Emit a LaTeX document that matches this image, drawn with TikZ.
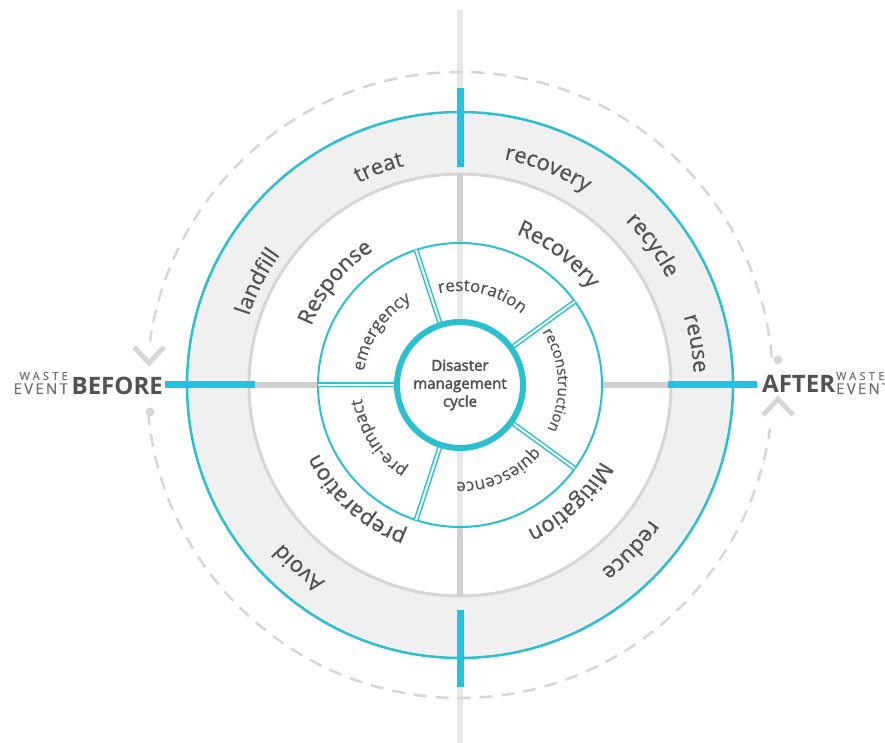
\documentclass[tikz,border=0pt]{standalone}
\usepackage{fontspec}
\setmainfont{Open Sans}
\usetikzlibrary{decorations.text}
\definecolor{cy}{RGB}{43,192,208}
\definecolor{cyb}{RGB}{32,196,226}
\definecolor{band}{RGB}{240,240,240}
\definecolor{bandline}{RGB}{214,214,214}
\definecolor{axisg}{RGB}{208,208,208}
\definecolor{axisl}{RGB}{232,232,232}
\definecolor{dashg}{RGB}{214,214,214}
\definecolor{txt}{RGB}{82,82,82}
\definecolor{txtl}{RGB}{110,110,110}
\newcommand{\bigfont}{\fontsize{22}{22}\selectfont\addfontfeature{LetterSpace=10,FakeBold=0.8}\color{txt}}
\newcommand{\outfont}{\fontsize{22}{22}\selectfont\addfontfeature{LetterSpace=10,FakeBold=0.6}\color{txt}}
\newcommand{\innfont}{\fontsize{17}{17}\selectfont\addfontfeature{LetterSpace=10,FakeBold=0.4}\color{txt}}
\newcommand{\recfont}{\fontsize{15}{15}\selectfont\addfontfeature{LetterSpace=4,FakeBold=0.4}\color{txt}}
\newcommand{\arclabel}[4]{\path[decorate,decoration={text along path,text align=center,text={|#3|#4}}] ({#1+60}:#2) arc[start angle={#1+60}, end angle={#1-60}, radius=#2];}
\tikzset{
  spoke/.style={cy, double=white, double distance=2pt, line width=1.5pt},
  axisin/.style={axisg, line width=6pt},
  axiscy/.style={cyb, line width=7pt},
  dashring/.style={dashg, line width=2.5pt, dash pattern=on 13pt off 9pt},
  chev/.style={dashg, line width=5pt},
  sidelab/.style={inner sep=0pt}
}
\begin{document}
\begin{tikzpicture}[x=1pt,y=1pt]
\useasboundingbox (-460,-358) rectangle (425,385);
\clip (-460,-358) rectangle (425,385);
% outer light vertical axis
\draw[axisl, line width=6pt] (0,375) -- (0,-362);
% dashed cycle ring
\draw[dashring] (5:313) arc[start angle=5,end angle=172,radius=313];
\draw[dashring] (185:313) arc[start angle=185,end angle=352,radius=313];
\draw[chev] (-326,38) -- (-311,22) -- (-296,38);
\fill[dashg] (-310,-27) circle (4.5);
\draw[chev] (303,-30) -- (318,-14) -- (333,-30);
\fill[dashg] (318,25) circle (4.5);
% grey band
\fill[band, even odd rule] (0,0) circle (273) (0,0) circle (211);
\draw[bandline, line width=3pt] (0,0) circle (211);
\draw[cy, line width=2.5pt] (0,0) circle (273);
% inner grey axis pieces
\draw[axisin] (0,211) -- (0,142);
\draw[axisin] (0,-211) -- (0,-142);
\draw[axisin] (-211,0) -- (-142,0);
\draw[axisin] (211,0) -- (142,0);
% cyan axis marks
\draw[axiscy] (0,218) -- (0,297);
\draw[axiscy] (0,-225) -- (0,-302);
\draw[axiscy] (-295,0) -- (-205,0);
\draw[axiscy] (208,0) -- (297,0);
% middle ring
\draw[cy, line width=2pt] (0,0) circle (142);
\foreach \a in {180,108,36,-36,-108} \draw[spoke] (\a:60) -- (\a:142);
% core
\node[circle, draw=cy, line width=6pt, fill=white, minimum size=126pt, inner sep=0pt, align=center, text=txt, font=\fontsize{15}{18}\selectfont\addfontfeature{FakeBold=2.5}] (core) at (0,0) {Disaster\\management\\cycle};
% inner labels
\arclabel{146}{97}{\innfont}{emergency}
\arclabel{76}{94}{\innfont}{restoration}
\arclabel{3}{98}{\recfont}{reconstruction}
\arclabel{-66}{97}{\innfont}{quiescence}
\arclabel{213}{99}{\innfont}{pre-impact}
% middle labels
\arclabel{140.6}{160}{\bigfont}{Response}
\arclabel{53}{161}{\bigfont}{Recovery}
\arclabel{-46.7}{160}{\bigfont}{Mitigation}
\arclabel{228}{157}{\bigfont}{preparation}
% outer band labels
\arclabel{110.5}{226}{\outfont}{treat}
\arclabel{153}{222}{\outfont}{landfill}
\arclabel{67.9}{230}{\outfont}{recovery}
\arclabel{36}{233}{\outfont}{recycle}
\arclabel{10}{234}{\outfont}{reuse}
\arclabel{-44}{233}{\outfont}{reduce}
\arclabel{228.6}{238}{\outfont}{Avoid}
% side labels
\node[sidelab, anchor=base east, text=txt, font=\fontsize{24}{24}\selectfont\bfseries] (before) at (-297,-10) {BEFORE};
\node[sidelab, anchor=base east, text=txtl, font=\fontsize{15}{15}\selectfont\addfontfeature{LetterSpace=15,FakeBold=0.5}] (evl) at (-392,-9) {EVENT};
\node[sidelab, anchor=base east, text=txtl, font=\fontsize{11}{11}\selectfont\addfontfeature{LetterSpace=30,FakeBold=0.5}] (wsl) at (-392,5) {WASTE};
\node[sidelab, anchor=base west, text=txt, font=\fontsize{24}{24}\selectfont\bfseries] (after) at (302,-8) {AFTER};
\node[sidelab, anchor=base west, text=txtl, font=\fontsize{15}{15}\selectfont\addfontfeature{LetterSpace=15,FakeBold=0.5}] (evr) at (376,-9) {EVENT};
\node[sidelab, anchor=base west, text=txtl, font=\fontsize{11}{11}\selectfont\addfontfeature{LetterSpace=30,FakeBold=0.5}] (wsr) at (376,5) {WASTE};
\end{tikzpicture}
\end{document}
